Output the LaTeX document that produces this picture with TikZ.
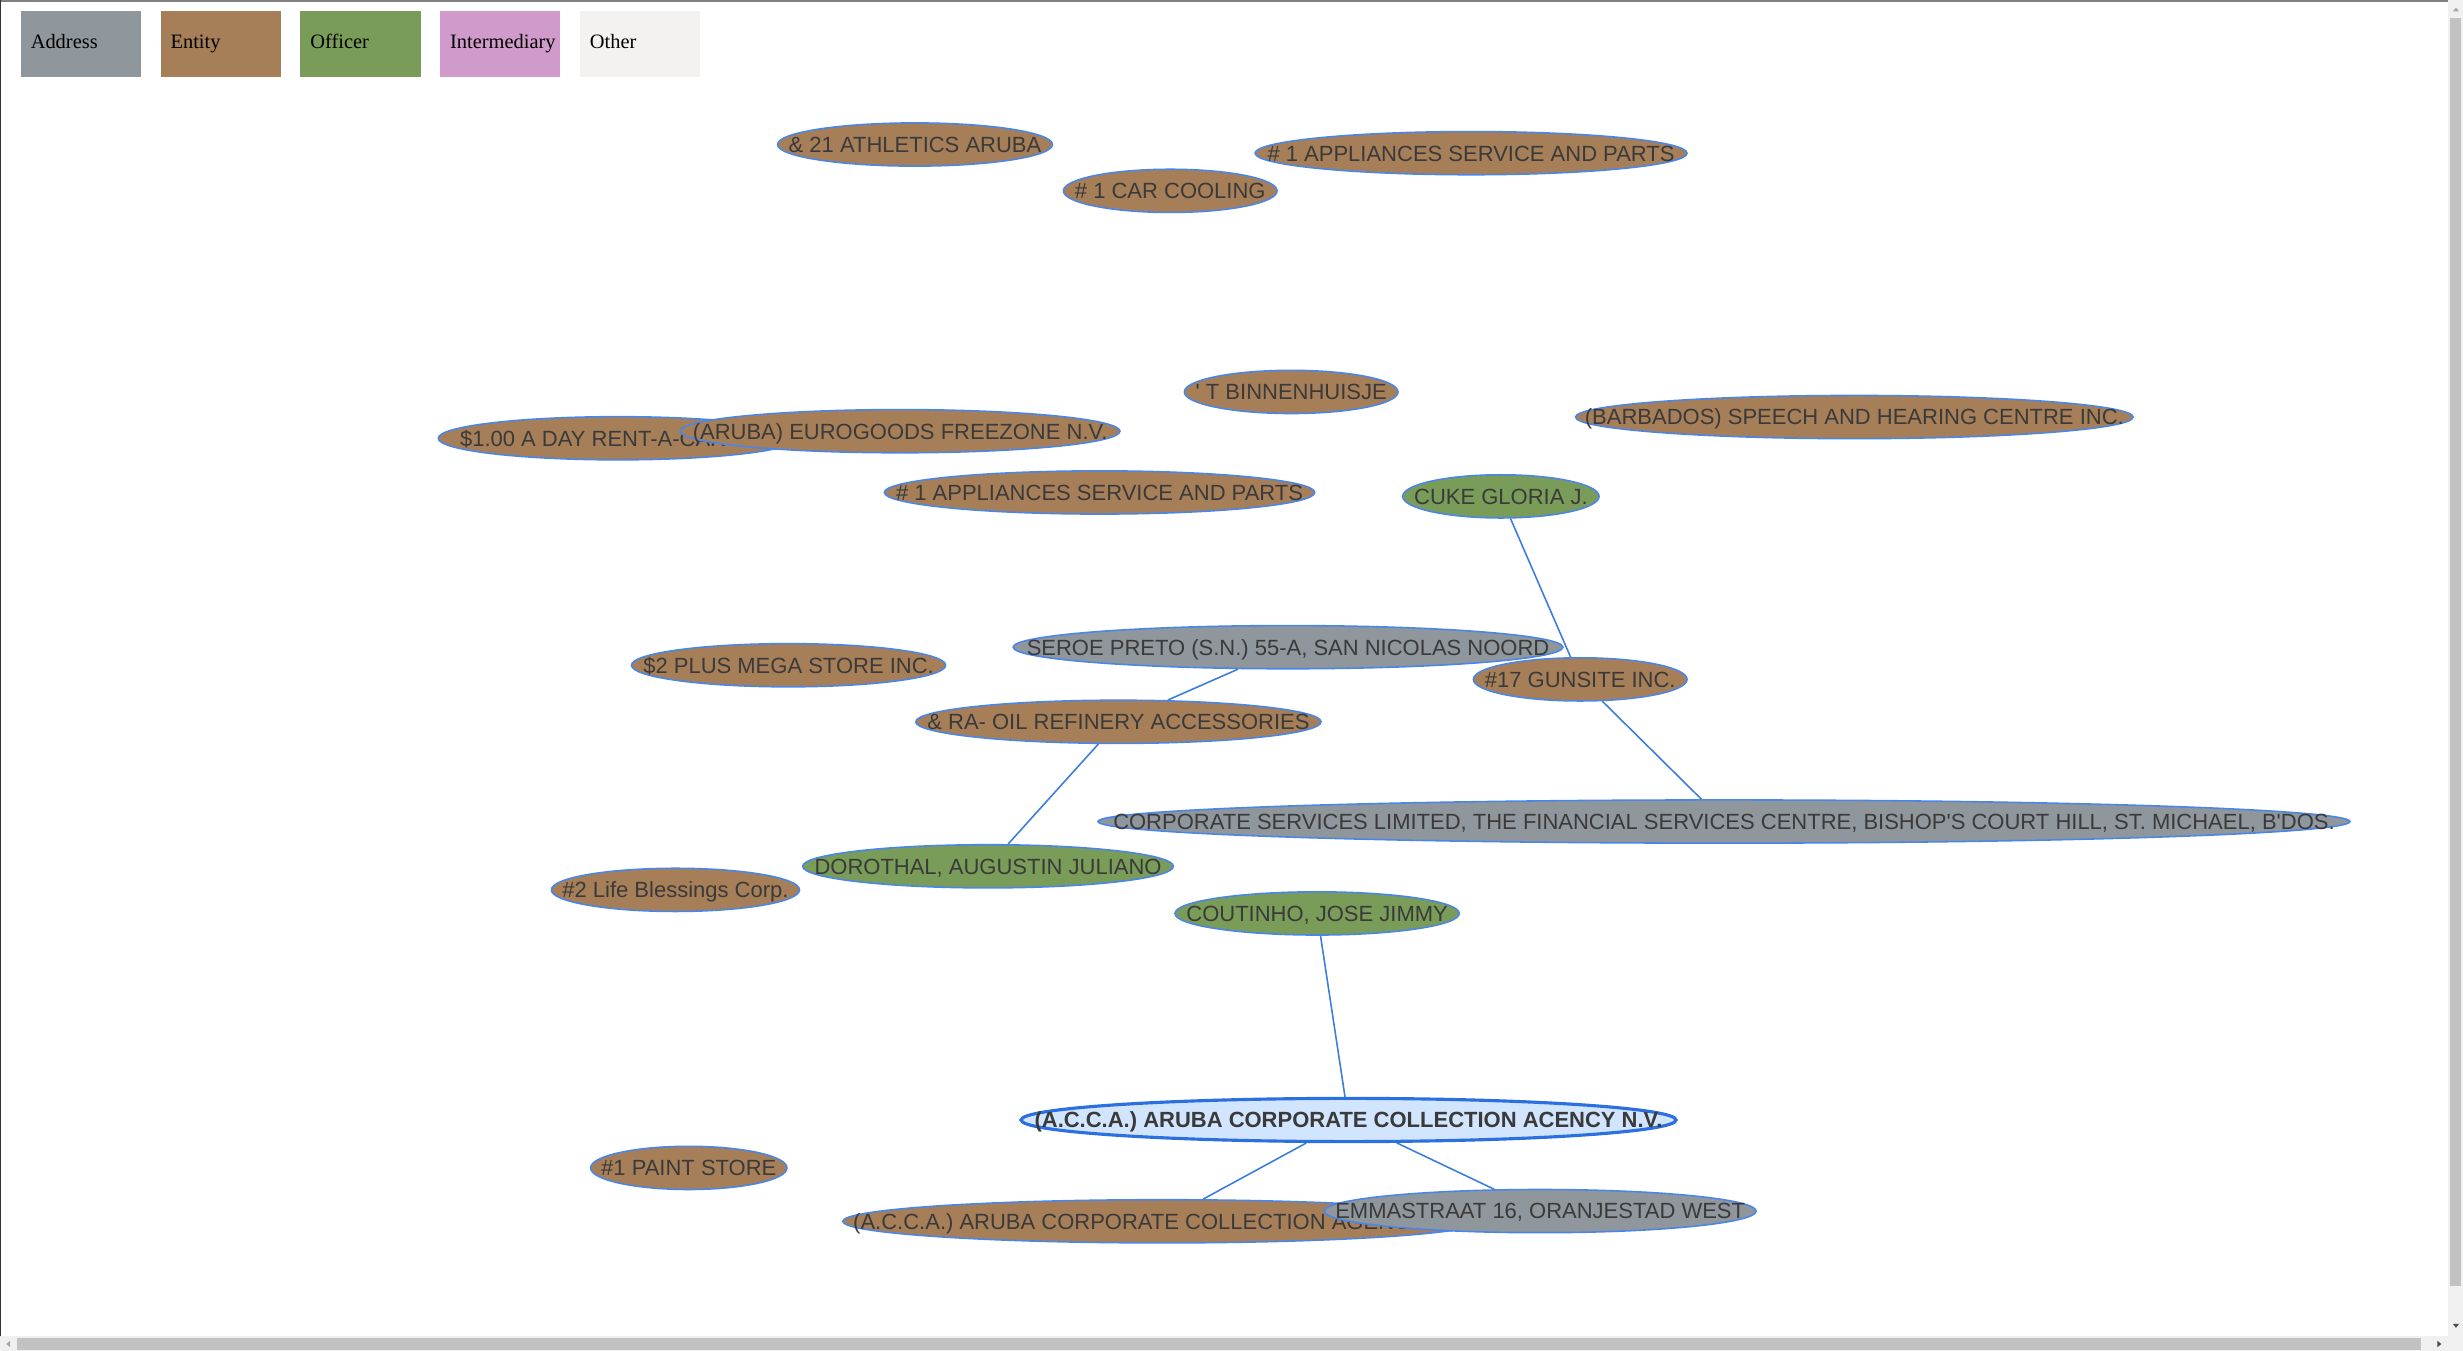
\documentclass[tikz,border=0pt]{standalone}
\usepackage{fontspec}
\setmainfont{Liberation Sans}
\newfontfamily\legfont{Liberation Serif}
\usetikzlibrary{shapes.geometric,backgrounds}

\tikzset{
  leg/.style={anchor=north west, minimum height=41.5pt, inner xsep=6.4pt,
    inner ysep=0pt, text width=63.7pt, align=left,
    text height=9.4pt, text depth=3pt,
    font=\legfont\fontsize{13}{15}\selectfont},
  blob/.style={ellipse, draw=bd, line width=1pt, inner sep=0pt,
    minimum height=27.5pt, text=tx, text height=11.5pt, text depth=1.5pt,
    font=\fontsize{14}{16}\selectfont},
  lnk/.style={draw=ln, line width=1pt}
}

\begin{document}
\begin{tikzpicture}[x=1pt,y=-1pt]
 \definecolor{adr}{RGB}{143,150,156}
 \definecolor{ent}{RGB}{166,127,89}
 \definecolor{off}{RGB}{122,156,89}
 \definecolor{itm}{RGB}{208,154,203}
 \definecolor{oth}{RGB}{243,242,241}
 \definecolor{bd}{RGB}{74,134,232}
 \definecolor{ln}{RGB}{59,125,221}
 \definecolor{tx}{RGB}{58,58,58}
 \definecolor{sel}{RGB}{210,229,255}
 \definecolor{selbd}{RGB}{43,111,224}
 \useasboundingbox (0,0) rectangle (1568,860.07);
 % window edges
 \draw[black!50, line width=1.3pt] (0,0.65) -- (1558.3,0.65);
 \draw[black!80, line width=0.8pt] (0.4,0) -- (0.4,850.5);
 % legend
 \foreach \col/\xp/\txt in {
   adr/13/Address, ent/102/Entity, off/191/Officer,
   itm/280/Intermediary, oth/369/Other} {
   \node[leg, fill=\col] (l\col) at (\xp,7) {\txt};
 }
 % graph nodes, back to front
 \foreach \nm/\col/\xp/\yp/\wd/\txt in {
   athl/ent/582.5/92/175/{\& 21 ATHLETICS ARUBA},
   cool/ent/745/121.5/136/{\# 1 CAR COOLING},
   appl/ent/936.5/97.5/275/{\# 1 APPLIANCES SERVICE AND PARTS},
   binn/ent/822/249.5/136/{\textquotesingle\ T BINNENHUISJE},
   barb/ent/1180.5/265.5/355/{(BARBADOS) SPEECH AND HEARING CENTRE INC.},
   rent/ent/393.5/279/229/{\$1.00 A DAY RENT-A-CAR INC.},
   euro/ent/573/274.5/280/{(ARUBA) EUROGOODS FREEZONE N.V.},
   appl2/ent/700/313.5/274/{\# 1 APPLIANCES SERVICE AND PARTS},
   cuke/off/955.5/316/125/{CUKE GLORIA J.},
   seroe/adr/820/412/350/{SEROE PRETO (S.N.) 55-A, SAN NICOLAS NOORD},
   plus/ent/502/423.5/200/{\$2 PLUS MEGA STORE INC.},
   guns/ent/1006/432.5/136/{\#17 GUNSITE INC.},
   refin/ent/712/459.5/258/{\& RA- OIL REFINERY ACCESSORIES},
   corp/adr/1097.5/523/797/{CORPORATE SERVICES LIMITED, THE FINANCIAL SERVICES CENTRE, BISHOP\textquotesingle S COURT HILL, ST. MICHAEL, B\textquotesingle DOS.},
   doro/off/629/551.5/236/{DOROTHAL, AUGUSTIN JULIANO},
   life/ent/430/566.5/158/{\#2 Life Blessings Corp.},
   cout/off/838.5/581.5/181/{COUTINHO, JOSE JIMMY},
   paint/ent/438.5/743.5/125/{\#1 PAINT STORE},
   acca2/ent/740/777.5/407/{(A.C.C.A.) ARUBA CORPORATE COLLECTION AGENCY N.V.},
   emma/adr/980.5/771/275/{EMMASTRAAT 16, ORANJESTAD WEST}} {
   \node[blob, fill=\col, minimum width=\wd] (\nm) at (\xp,\yp) {\makebox[0pt]{\txt}};
 }
 % selected node
 \node[blob, fill=sel, draw=selbd, line width=2pt, minimum width=417,
   font=\bfseries\fontsize{14}{16}\selectfont] (acca) at (858.5,713)
   {\makebox[0pt]{(A.C.C.A.) ARUBA CORPORATE COLLECTION ACENCY N.V.}};
 % links
 \begin{scope}[on background layer]
   \fill[white] (0,0) rectangle (1568,860.07);
   \foreach \a/\b in {
     cuke/guns, guns/corp, seroe/refin, refin/doro,
     cout/acca, acca/acca2, acca/emma} {
     \draw[lnk] (\a) -- (\b);
   }
 \end{scope}
 % scroll bars
 \fill[black!6] (1558.3,0) rectangle (1568,850.5);
 \fill[black!24] (1559.7,11.5) rectangle (1567,818.6);
 \fill[black!6] (0,850.5) rectangle (1568,860.07);
 \fill[black!24] (10.6,851.8) rectangle (1541.3,859.5);
 \fill[black!35] (1561.5,7.3) -- (1565.5,7.3) -- (1563.5,4.8) -- cycle;
 \fill[black!70] (1561.5,842.8) -- (1565.5,842.8) -- (1563.5,845.3) -- cycle;
 \fill[black!35] (6.5,853.6) -- (6.5,857.6) -- (4,855.6) -- cycle;
 \fill[black!70] (1551.7,853.6) -- (1551.7,857.6) -- (1554.2,855.6) -- cycle;
\end{tikzpicture}
\end{document}
